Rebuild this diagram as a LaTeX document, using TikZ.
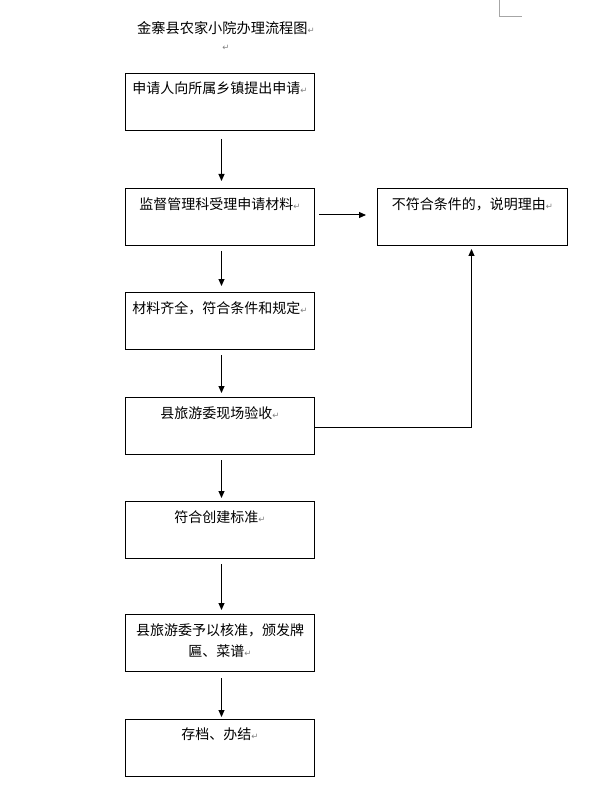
\documentclass[tikz,border=0pt]{standalone}
\usepackage{fontspec}
\newfontfamily\cjk{Noto Sans CJK SC}
\newfontfamily\symfont{DejaVu Sans}
\usetikzlibrary{arrows.meta,calc}
\newcommand\parmark{{\symfont\fontsize{8.5}{8.5}\selectfont\color{gray}↵}}
\begin{document}
\begin{tikzpicture}[x=1pt,y=-1pt,
  box/.style={draw, line width=1pt, minimum width=189pt, minimum height=57pt, inner sep=0pt, anchor=north west},
  txt/.style={font=\cjk\fontsize{14}{21}\selectfont, anchor=north, inner sep=0pt, align=center},
  arr/.style={-{Triangle[length=7pt,width=6pt]}, line width=1pt}]
\useasboundingbox (0,0) rectangle (598,799);
% corner mark
\draw[gray!70, line width=0.8pt] (499,0) -- (499,16) -- (522,16);
% title
\node[font=\cjk\fontsize{14.2}{17}\selectfont, anchor=base west, inner sep=0pt] (title) at (137,34) {金寨县农家小院办理流程图\parmark};
\node[inner sep=0pt] (blank) at (226,48) {\parmark};
% boxes
\node[box] (b1) at (125,73) {};
\node[box] (b2) at (125,188) {};
\node[box, minimum width=190pt] (r) at (377,188) {};
\node[box] (b3) at (125,292) {};
\node[box] (b4) at (125,397) {};
\node[box] (b5) at (125,501) {};
\node[box] (b6) at (125,614) {};
\node[box] (b7) at (125,719) {};
% texts
\node[txt] (t1) at ($(b1.north)+(0,9)$) {申请人向所属乡镇提出申请\parmark};
\node[txt] (t2) at ($(b2.north)+(0,9)$) {监督管理科受理申请材料\parmark};
\node[txt] (tr) at ($(r.north)+(0,9)$) {不符合条件的，说明理由\parmark};
\node[txt] (t3) at ($(b3.north)+(0,9)$) {材料齐全，符合条件和规定\parmark};
\node[txt] (t4) at ($(b4.north)+(0,9)$) {县旅游委现场验收\parmark};
\node[txt] (t5) at ($(b5.north)+(0,9)$) {符合创建标准\parmark};
\node[txt] (t6) at ($(b6.north)+(0,9)$) {县旅游委予以核准，颁发牌\\匾、菜谱\parmark};
\node[txt] (t7) at ($(b7.north)+(0,9)$) {存档、办结\parmark};
% arrows
\draw[arr, shorten <=8pt, shorten >=7pt] ([xshift=1.5pt]b1.south) -- ([xshift=1.5pt]b2.north);
\draw[arr, shorten <=5pt, shorten >=6pt] ([xshift=1.5pt]b2.south) -- ([xshift=1.5pt]b3.north);
\draw[arr, shorten <=5pt, shorten >=4pt] ([xshift=1.5pt]b3.south) -- ([xshift=1.5pt]b4.north);
\draw[arr, shorten <=5pt, shorten >=3pt] ([xshift=1.5pt]b4.south) -- ([xshift=1.5pt]b5.north);
\draw[arr, shorten <=5pt, shorten >=4pt] ([xshift=1.5pt]b5.south) -- ([xshift=1.5pt]b6.north);
\draw[arr, shorten <=6pt, shorten >=2pt] ([xshift=1.5pt]b6.south) -- ([xshift=1.5pt]b7.north);
\draw[arr, shorten <=4pt, shorten >=11pt] ([yshift=2pt]b2.east) -- ([yshift=2pt]r.west);
\draw[arr, shorten >=3pt] ([yshift=-1pt]b4.east) -| ([xshift=-1pt]r.south);
\end{tikzpicture}
\end{document}
